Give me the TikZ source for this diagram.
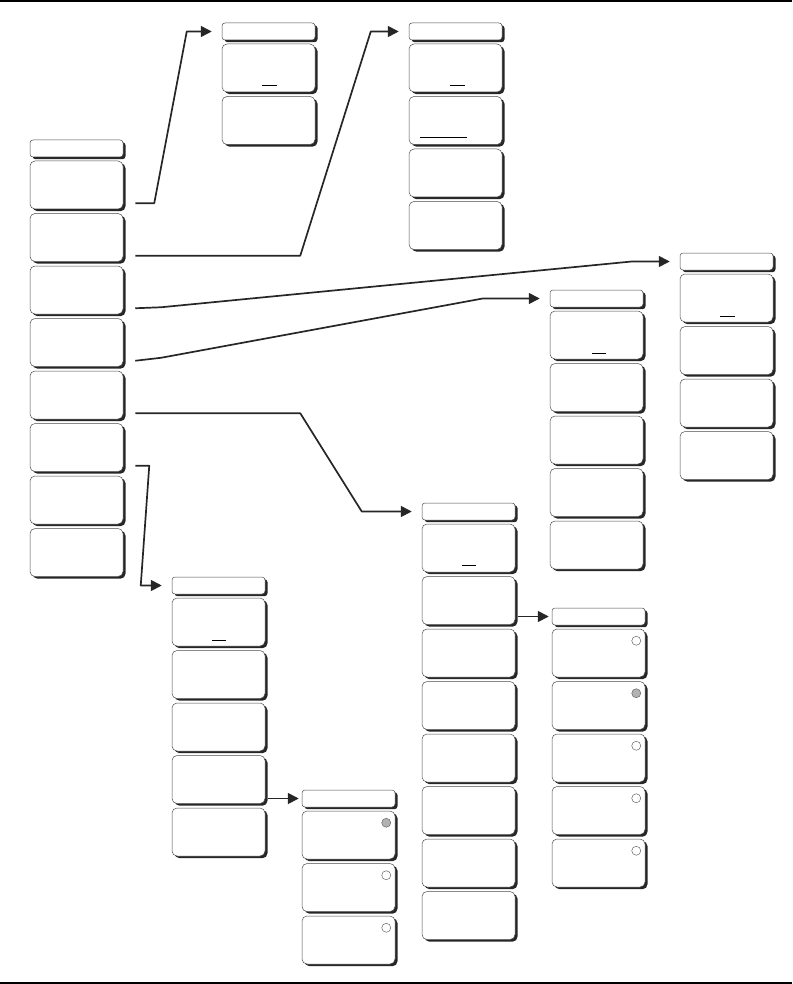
\documentclass[tikz,border=0pt]{standalone}
\usetikzlibrary{positioning,arrows.meta,shadows}

\begin{document}
\begin{tikzpicture}[
  x=1pt, y=-1pt,
  hdr/.style={draw=black!70, line width=0.5pt, rounded corners=3pt, fill=white,
    minimum width=93pt, minimum height=17pt, inner sep=0pt,
    drop shadow={shadow xshift=2.5pt, shadow yshift=-2.2pt, opacity=1, fill=black!85}},
  btn/.style={hdr, rounded corners=5pt, minimum height=48pt},
  arr/.style={-{Triangle[length=11pt,width=11pt]}, line width=1.7pt, draw=black!85,
    line join=round, shorten >=10pt},
  uline/.style={line width=0.8pt, draw=black},
  radio/.style={circle, draw=black!60, line width=0.5pt, fill=white, minimum size=9pt, inner sep=0pt},
  radioon/.style={radio, fill=black!30},
  rule/.style={line width=2pt, draw=black}
]
\useasboundingbox (0,0) rectangle (792,984);
\draw[rule] (0,1) -- (792,1);
\draw[rule] (0,983) -- (792,983);
% main menu
\node[hdr] (hdr-main) at (76.5,148.5) {};
\node[btn] (btn-main-1) at (76.5,185) {};
\node[btn] (btn-main-2) at (76.5,237.5) {};
\node[btn] (btn-main-3) at (76.5,290) {};
\node[btn] (btn-main-4) at (76.5,342.5) {};
\node[btn] (btn-main-5) at (76.5,395) {};
\node[btn] (btn-main-6) at (76.5,447.5) {};
\node[btn] (btn-main-7) at (76.5,500) {};
\node[btn] (btn-main-8) at (76.5,552.5) {};
% menu a
\node[hdr] (hdr-a) at (268.5,31.5) {};
\node[btn] (btn-a-1) at (268.5,68) {};
\node[btn] (btn-a-2) at (268.5,120.5) {};
\draw[uline] ([xshift=-6.5pt,yshift=6.5pt]btn-a-1.south) -- ++(15,0);
% menu b
\node[hdr] (hdr-b) at (455.5,31.5) {};
\node[btn] (btn-b-1) at (455.5,68) {};
\node[btn] (btn-b-2) at (455.5,120.5) {};
\node[btn] (btn-b-3) at (455.5,173) {};
\node[btn] (btn-b-4) at (455.5,225.5) {};
\draw[uline] ([xshift=-5.5pt,yshift=7pt]btn-b-1.south) -- ++(15,0);
\draw[uline] ([xshift=-35.5pt,yshift=7pt]btn-b-2.south) -- ++(47,0);
% menu c
\node[hdr] (hdr-c) at (726.5,261.5) {};
\node[btn] (btn-c-1) at (726.5,298) {};
\node[btn] (btn-c-2) at (726.5,350.5) {};
\node[btn] (btn-c-3) at (726.5,403) {};
\node[btn] (btn-c-4) at (726.5,455.5) {};
\draw[uline] ([xshift=-6.5pt,yshift=6pt]btn-c-1.south) -- ++(15,0);
% menu d
\node[hdr] (hdr-d) at (596.5,298.5) {};
\node[btn] (btn-d-1) at (596.5,335) {};
\node[btn] (btn-d-2) at (596.5,387.5) {};
\node[btn] (btn-d-3) at (596.5,440) {};
\node[btn] (btn-d-4) at (596.5,492.5) {};
\node[btn] (btn-d-5) at (596.5,545) {};
\draw[uline] ([xshift=-4.5pt,yshift=6pt]btn-d-1.south) -- ++(14,0);
% menu e
\node[hdr] (hdr-e) at (468.5,511.5) {};
\node[btn] (btn-e-1) at (468.5,548) {};
\node[btn] (btn-e-2) at (468.5,600.5) {};
\node[btn] (btn-e-3) at (468.5,653) {};
\node[btn] (btn-e-4) at (468.5,705.5) {};
\node[btn] (btn-e-5) at (468.5,758) {};
\node[btn] (btn-e-6) at (468.5,810.5) {};
\node[btn] (btn-e-7) at (468.5,863) {};
\node[btn] (btn-e-8) at (468.5,915.5) {};
\draw[uline] ([xshift=-6.5pt,yshift=7pt]btn-e-1.south) -- ++(14,0);
% menu f
\node[hdr] (hdr-f) at (598.5,616.5) {};
\node[btn] (btn-f-1) at (598.5,653) {};
\node[btn] (btn-f-2) at (598.5,705.5) {};
\node[btn] (btn-f-3) at (598.5,758) {};
\node[btn] (btn-f-4) at (598.5,810.5) {};
\node[btn] (btn-f-5) at (598.5,863) {};
\node[radio] (rad-f-1) at ([xshift=-9pt,yshift=-12pt]btn-f-1.north east) {};
\node[radioon] (rad-f-2) at ([xshift=-9pt,yshift=-12pt]btn-f-2.north east) {};
\node[radio] (rad-f-3) at ([xshift=-9pt,yshift=-12pt]btn-f-3.north east) {};
\node[radio] (rad-f-4) at ([xshift=-9pt,yshift=-12pt]btn-f-4.north east) {};
\node[radio] (rad-f-5) at ([xshift=-9pt,yshift=-12pt]btn-f-5.north east) {};
% menu g
\node[hdr] (hdr-g) at (218.5,585.5) {};
\node[btn] (btn-g-1) at (218.5,622) {};
\node[btn] (btn-g-2) at (218.5,674.5) {};
\node[btn] (btn-g-3) at (218.5,727) {};
\node[btn] (btn-g-4) at (218.5,779.5) {};
\node[btn] (btn-g-5) at (218.5,832) {};
\draw[uline] ([xshift=-6.5pt,yshift=6pt]btn-g-1.south) -- ++(14,0);
% menu h
\node[hdr] (hdr-h) at (348.5,798.5) {};
\node[btn] (btn-h-1) at (348.5,835) {};
\node[btn] (btn-h-2) at (348.5,887.5) {};
\node[btn] (btn-h-3) at (348.5,940) {};
\node[radioon] (rad-h-1) at ([xshift=-9pt,yshift=-12pt]btn-h-1.north east) {};
\node[radio] (rad-h-2) at ([xshift=-9pt,yshift=-12pt]btn-h-2.north east) {};
\node[radio] (rad-h-3) at ([xshift=-9pt,yshift=-12pt]btn-h-3.north east) {};
% connectors
\draw[arr] ([xshift=12pt,yshift=6pt]btn-main-1.south east) -- ++(19,0) -- ([xshift=-35pt]hdr-a.west) -- (hdr-a.west);
\draw[arr] ([xshift=12pt,yshift=6pt]btn-main-2.south east) -- ++(165,0) -- ([xshift=-38pt]hdr-b.west) -- (hdr-b.west);
\draw[arr] ([xshift=12pt,yshift=6pt]btn-main-3.south east) -- ++(26,-1) -- ([xshift=-48pt]hdr-c.west) -- (hdr-c.west);
\draw[arr] ([xshift=12pt,yshift=6pt]btn-main-4.south east) -- ++(26,-3) -- ([xshift=-67pt]hdr-d.west) -- (hdr-d.west);
\draw[arr] ([xshift=12pt,yshift=6pt]btn-main-5.south east) -- ++(165,0) -- ([xshift=-60pt]hdr-e.west) -- (hdr-e.west);
\draw[arr] ([xshift=12pt,yshift=6pt]btn-main-6.south east) -- ++(14,0) -- ([xshift=-31pt]hdr-g.west) -- (hdr-g.west);
\draw[arr, shorten >=3pt] ([xshift=3pt]btn-e-2.east |- hdr-f.west) -- (hdr-f.west);
\draw[arr, shorten >=3pt] ([xshift=3pt]btn-g-4.east |- hdr-h.west) -- (hdr-h.west);
\end{tikzpicture}
\end{document}
